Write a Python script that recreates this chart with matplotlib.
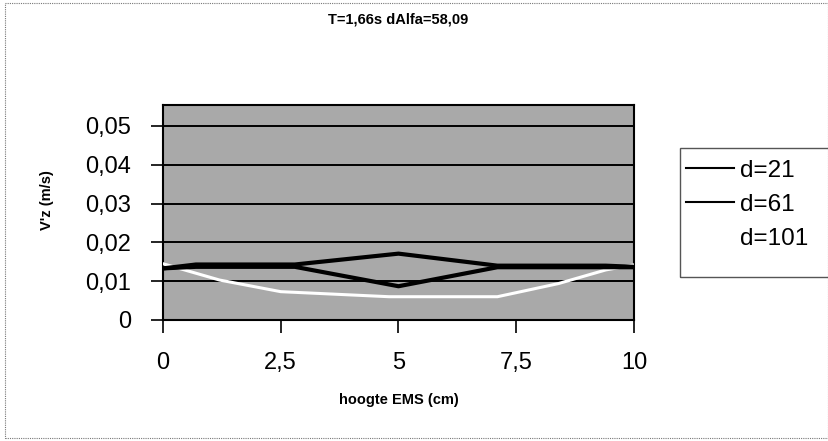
import matplotlib
matplotlib.use("Agg")
import matplotlib.pyplot as plt
from matplotlib.patches import Rectangle
from matplotlib.lines import Line2D

plt.rcParams['font.family'] = ['Liberation Sans', 'DejaVu Sans']

# data
x_black = [0, 0.7, 2.8, 5.0, 7.1, 9.4, 10]
d21 = [0.0133, 0.0143, 0.0143, 0.0171, 0.0140, 0.0140, 0.0137]
d61 = [0.0133, 0.0137, 0.0137, 0.0087, 0.0136, 0.0136, 0.0136]

x_white = [0, 1.2, 2.5, 4.8, 7.1, 8.4, 9.4, 10]
d101 = [0.0145, 0.0103, 0.0073, 0.0060, 0.0060, 0.0094, 0.0129, 0.0142]

xticks = [0, 2.5, 5, 7.5, 10]
xtick_labels = ["0", "2,5", "5", "7,5", "10"]
yticks = [0, 0.01, 0.02, 0.03, 0.04, 0.05]
ytick_labels = ["0", "0,01", "0,02", "0,03", "0,04", "0,05"]

W, H = 829, 441
fig = plt.figure(figsize=(W / 100, H / 100), dpi=100)
fig.patch.set_facecolor("white")

# outer chart frame
fig.patches.append(Rectangle((5 / W, 3 / H), (W - 6) / W, (H - 6) / H,
                             transform=fig.transFigure, fill=False,
                             edgecolor="#777777", lw=0.8, ls=(0, (1, 1))))

ax = fig.add_axes([163 / W, 1 - 320 / H, 471 / W, 215 / H])
ax.set_facecolor("#a9a9a9")

for yv in yticks[1:]:
    ax.axhline(yv, color="black", lw=1.4, zorder=1)

ax.plot(x_white, d101, color="white", lw=2.2, zorder=3, label="d=101")
ax.plot(x_black, d61, color="black", lw=3.0, zorder=4, label="d=61")
ax.plot(x_black, d21, color="black", lw=3.0, zorder=4, label="d=21")

ax.set_xlim(0, 10)
ax.set_ylim(0, 0.0554)
ax.set_xticks(xticks)
ax.set_xticklabels(xtick_labels, fontsize=17)
ax.set_yticks(yticks)
ax.set_yticklabels(ytick_labels, fontsize=17)
ax.tick_params(axis="both", direction="out", length=9, width=1.2, color="black")
ax.tick_params(axis="x", pad=14)
ax.tick_params(axis="y", pad=14)
for s in ax.spines.values():
    s.set_color("black")
    s.set_linewidth(1.5)

ax.set_xlabel("hoogte EMS (cm)", fontsize=10.5, fontweight="bold", labelpad=14)
fig.text(47 / W, 1 - 200 / H, "V'z (m/s)", rotation=90, fontsize=10.5,
         fontweight="bold", ha="center", va="center")
fig.text(398 / W, 1 - 20 / H, "T=1,66s dAlfa=58,09", fontsize=10.5,
         fontweight="bold", ha="center", va="center")

# legend box, cut off at the right edge like the scan
fig.patches.append(Rectangle((680 / W, 1 - 277 / H), 160 / W, 129 / H,
                             transform=fig.transFigure, fill=False,
                             edgecolor="#555555", lw=1.0))
handles = [Line2D([], [], color="black", lw=1.5),
           Line2D([], [], color="black", lw=1.5),
           Line2D([], [], color="white", lw=1.5)]
fig.legend(handles, ["d=21", "d=61", "d=101"], loc="upper left",
           bbox_to_anchor=(676 / W, 1 - 150 / H), frameon=False,
           fontsize=17.5, handlelength=2.0, handletextpad=0.25,
           labelspacing=0.5, borderaxespad=0)

fig.savefig("out.png", dpi=100)
